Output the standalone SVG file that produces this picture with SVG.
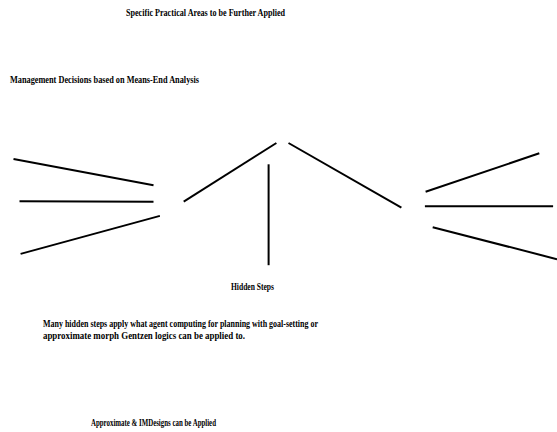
<svg xmlns="http://www.w3.org/2000/svg" width="557" height="432" viewBox="0 0 557 432">
<style>
.t{font-family:"Liberation Serif","Times New Roman",serif;font-size:9.5px;fill:#000;font-weight:bold}
.c line{stroke:#000;stroke-width:2;stroke-linecap:butt}
</style>
<rect width="557" height="432" fill="#fff"/>
<g id="title"><text class="t" x="126" y="16" textLength="159" lengthAdjust="spacingAndGlyphs">Specific Practical  Areas to be Further Applied</text></g>
<g id="management"><text class="t" x="10" y="83" textLength="189" lengthAdjust="spacingAndGlyphs">Management Decisions based on Means-End Analysis</text></g>
<g id="hidden"><text class="t" x="231" y="290" textLength="43" lengthAdjust="spacingAndGlyphs">Hidden Steps</text></g>
<g id="paragraph">
<text class="t" x="43" y="327" textLength="275" lengthAdjust="spacingAndGlyphs">Many hidden steps apply what agent computing for planning with goal-setting or</text>
<text class="t" x="43" y="339" textLength="202" lengthAdjust="spacingAndGlyphs">approximate morph Gentzen logics can be applied to.</text>
</g>
<g id="approx"><text class="t" x="91" y="426" textLength="125" lengthAdjust="spacingAndGlyphs">Approximate &amp; IMDesigns can be Applied</text></g>
<g class="c" id="connectors">
<line x1="13.5" y1="159" x2="153.5" y2="185.3"/>
<line x1="19.5" y1="201.3" x2="153.5" y2="201.7"/>
<line x1="20.6" y1="253.9" x2="159.9" y2="215.9"/>
<line x1="183.7" y1="201.6" x2="276.4" y2="143"/>
<line x1="268.6" y1="164.3" x2="268.6" y2="265.2"/>
<line x1="288.5" y1="143" x2="401.4" y2="207.7"/>
<line x1="425.6" y1="191.7" x2="539.3" y2="153.3"/>
<line x1="424.9" y1="206.3" x2="553.1" y2="206.3"/>
<line x1="432.7" y1="227.2" x2="557" y2="259.2"/>
</g>
</svg>
